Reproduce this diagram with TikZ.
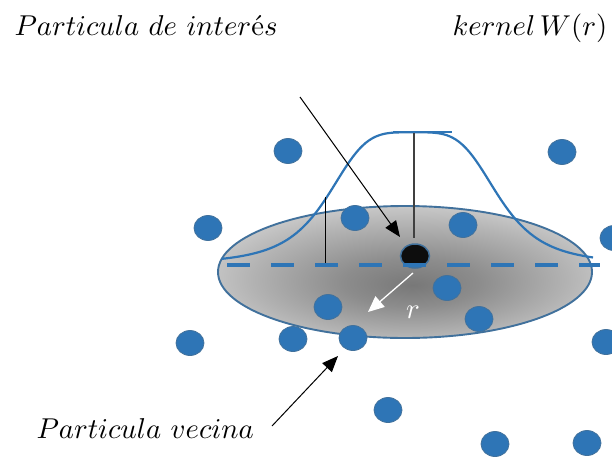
\documentclass[tikz,border=0pt]{standalone}
\usetikzlibrary{arrows.meta,shapes.geometric}
\definecolor{dotblue}{HTML}{2E75B6}
\definecolor{edgeblue}{HTML}{41719C}
\definecolor{darkline}{HTML}{404040}
\pgfdeclareradialshading{suppshade}{\pgfpoint{1bp}{-5bp}}{%
  color(0bp)=(black!53); color(9bp)=(black!45); color(21bp)=(black!30); color(33bp)=(black!14); color(50bp)=(black!10)}
\tikzset{
  dotp/.style={ellipse,fill=dotblue,draw=edgeblue,line width=0.8pt,minimum width=28pt,minimum height=25pt,inner sep=0pt},
  lbl/.style={inner sep=0pt,anchor=base west,scale=2.87,transform shape},
  pointer/.style={line width=1pt,-{Triangle[length=16pt,width=13pt]}},
}
\begin{document}
\begin{tikzpicture}[x=1pt,y=-1pt]
\useasboundingbox[fill=white] (0,0) rectangle (612,458);
% kernel support ellipse
\node[ellipse,minimum width=374pt,minimum height=132pt,inner sep=0pt,draw=edgeblue,line width=1.9pt,
      shading=suppshade] (supp) at (405,272) {};
% particles
\node[dotp] (p1) at (288,151) {};
\node[dotp] (p2) at (562,152) {};
\node[dotp] (p3) at (208,228) {};
\node[dotp] (p4) at (355,218) {};
\node[dotp] (p5) at (463,225) {};
\node[dotp] (p6) at (614,238) {};
\node[dotp] (p7) at (328,307) {};
\node[dotp] (p8) at (447,288) {};
\node[dotp] (p9) at (479,319) {};
\node[dotp] (p10) at (190,343) {};
\node[dotp] (p11) at (293,339) {};
\node[dotp] (p12) at (353,338) {};
\node[dotp] (p13) at (606,342) {};
\node[dotp] (p14) at (388,410) {};
\node[dotp] (p15) at (495,444) {};
\node[dotp] (p16) at (587,443) {};
% kernel curve
\draw[dotblue,line width=2.2pt] plot[domain=222:593,samples=120,smooth]
  (\x,{259-132*(1/(1+(((\x-413)/87)*((\x-413)/87))^2)-0.04)});
\draw[dotblue,line width=2.5pt] (393,132) -- (452,132);
% vertical lines
\draw[darkline,line width=1.8pt] (414,133) -- (414,238);
\draw[black,line width=1pt] (325,197) -- (325,265);
% central particle
\node[ellipse,fill=black!95,draw=edgeblue,line width=1.5pt,minimum width=29pt,minimum height=24pt,inner sep=0pt] (c) at (415,256) {};
% dashed axis
\coordinate (axL) at (227,265);
\coordinate (axR) at (600,265);
\draw[dotblue,line width=4.5pt,dash pattern=on 23pt off 21pt] (axL) -- (axR);
% radius arrow
\coordinate (r0) at (413,273);
\coordinate (r1) at (368,312);
\draw[white,line width=1.3pt,-{Triangle[length=16pt,width=14pt]}] (r0) -- (r1);
\node[lbl,text=white,anchor=base] (rl) at (413,318) {$r$};
% labels
\node[lbl] (t1) at (14,35) {$Particula\ de\ inter$é$s$};
\node[lbl] (t2) at (452,35) {$kernel\,W(r)$};
\node[lbl] (t3) at (36,438) {$Particula\ vecina$};
% pointers
\coordinate (a0) at (300,97);
\coordinate (a1) at (400,237);
\draw[pointer] (a0) -- (a1);
\coordinate (b0) at (272,426);
\coordinate (b1) at (338,356);
\draw[pointer] (b0) -- (b1);
\end{tikzpicture}
\end{document}
